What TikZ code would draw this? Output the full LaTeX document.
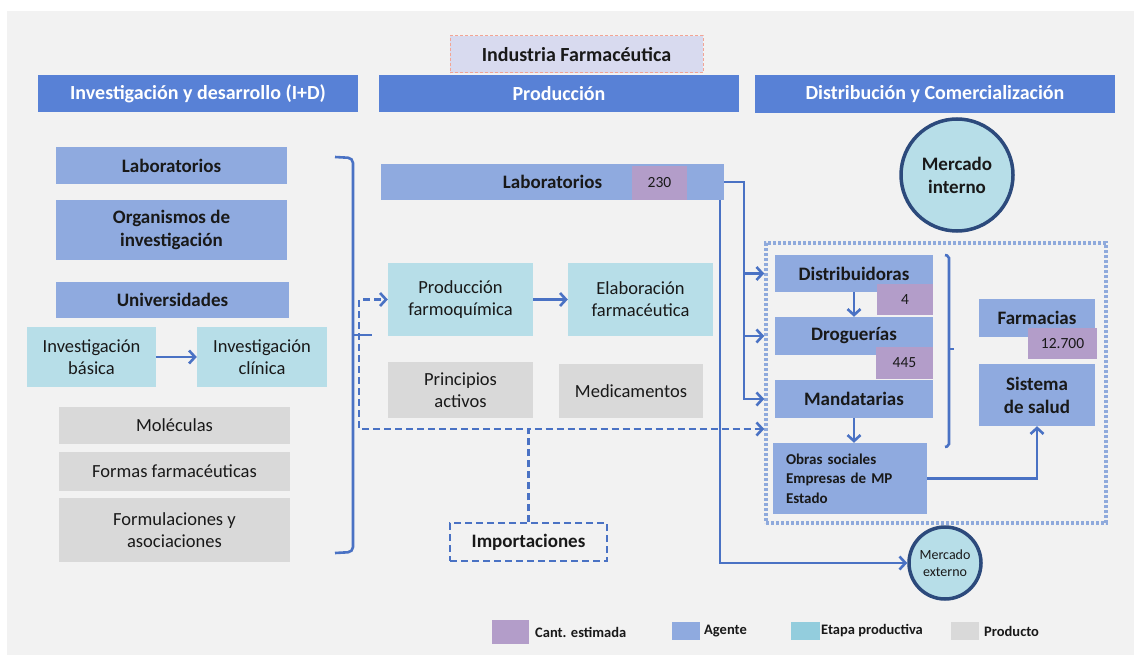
\documentclass[tikz,border=0pt]{standalone}
\usepackage{fontspec}
\setmainfont{Carlito}
\usetikzlibrary{arrows.meta}

\definecolor{fondo}{HTML}{F2F2F2}
\definecolor{cabecera}{HTML}{5881D6}
\definecolor{agente}{HTML}{8FAADF}
\definecolor{etapa}{HTML}{B7DEE8}
\definecolor{etapaley}{HTML}{93CDDD}
\definecolor{producto}{HTML}{D9D9D9}
\definecolor{cant}{HTML}{B39DC9}
\definecolor{linea}{HTML}{4A72C4}
\definecolor{punteado}{HTML}{8FAADC}
\definecolor{titulo}{HTML}{D8DAEF}
\definecolor{titborde}{HTML}{F2A595}
\definecolor{borde}{HTML}{2C4A7C}

\tikzset{
  caja/.style={inner sep=0pt, align=center, text=black!90},
  tam/.style 2 args={minimum width=#1, minimum height=#2},
  encabezado/.style={caja, fill=cabecera, text=white, font=\bfseries\fontsize{20}{24}\selectfont},
  agente/.style={caja, fill=agente, font=\bfseries\fontsize{19}{23}\selectfont},
  etapa/.style={caja, fill=etapa, font=\fontsize{18.5}{22}\selectfont},
  producto/.style={caja, fill=producto, font=\fontsize{18.5}{22}\selectfont},
  cant/.style={caja, fill=cant, font=\fontsize{15.5}{18}\selectfont},
  mercado/.style={circle, draw=borde, line width=3.5pt, fill=etapa, inner sep=0pt, align=center, text=black!90},
  flujo/.style={draw=linea, line width=2.6pt, -{Straight Barb[length=6pt,width=13pt]}},
  importa/.style={flujo, dash pattern=on 7pt off 4pt},
  llave/.style={draw=linea, line width=2.6pt, rounded corners=5pt},
  leyenda/.style={font=\bfseries\fontsize{14.5}{17}\selectfont, anchor=west, inner sep=0pt, text=black!90},
}

\begin{document}
\begin{tikzpicture}[x=1pt,y=-1pt]
  \useasboundingbox (0,0) rectangle (1134,655);
  \fill[white] (0,0) rectangle (1134,655);
  \fill[fondo] (7,11) rectangle (1134,655);

  \node[caja, tam={253}{37}, fill=titulo, draw=titborde, dash pattern=on 3pt off 2pt, line width=1pt,
        font=\bfseries\fontsize{20}{24}\selectfont] (titulo) at (576.5,54.5) {Industria Farmacéutica};
  \node[encabezado, tam={320}{37}] (hID) at (198,93.5) {Investigación y desarrollo (I+D)};
  \node[encabezado, tam={360}{37}] (hProd) at (559,93.5) {Producción};
  \node[encabezado, tam={360}{38}] (hDist) at (935,94) {Distribución y Comercialización};

  \node[agente, tam={231}{37}] (labL) at (171.5,165.5) {Laboratorios};
  \node[agente, tam={231}{60}] (orgL) at (171.5,230) {Organismos de\\investigación};
  \node[agente, tam={233}{36}] (uniL) at (172.5,300) {Universidades};
  \node[etapa, tam={129}{60}] (invB) at (91.5,357) {Investigación\\básica};
  \node[etapa, tam={130}{60}] (invC) at (262,357) {Investigación\\clínica};
  \node[producto, tam={231}{37}] (molec) at (174.5,425.5) {Moléculas};
  \node[producto, tam={231}{39}] (formas) at (174.5,471.5) {Formas farmacéuticas};
  \node[producto, tam={231}{64}] (formul) at (174.5,530) {Formulaciones y\\asociaciones};

  \node[agente, tam={343}{36}] (labP) at (552.5,182) {Laboratorios};
  \node[cant, tam={55}{34}] (n230) at (659.5,183) {230};
  \node[etapa, tam={145}{73}] (prodF) at (460.5,299.5) {Producción\\farmoquímica};
  \node[etapa, tam={145}{73}] (elabF) at (640.5,299.5) {Elaboración\\farmacéutica};
  \node[producto, tam={145}{56}] (princ) at (460.5,390) {Principios\\activos};
  \node[producto, tam={144}{54}] (medic) at (631,391) {Medicamentos};
  \node[caja, tam={157}{38}, draw=linea, line width=2pt, dash pattern=on 7pt off 4pt,
        font=\bfseries\fontsize{19}{23}\selectfont] (impor) at (528.5,542) {Importaciones};

  \node[mercado, minimum size=112, font=\bfseries\fontsize{19}{23}\selectfont] (mInt) at (957,175) {Mercado\\interno};
  \node[draw=punteado, line width=3.5pt, dash pattern=on 3pt off 2pt, tam={340}{280}, inner sep=0pt] (canal) at (936,383) {};
  \node[agente, tam={158}{37}] (distr) at (854,273.5) {Distribuidoras};
  \node[cant, tam={56}{31}] (n4) at (905,299.5) {4};
  \node[agente, tam={158}{38}] (drog) at (854,336) {Droguerías};
  \node[cant, tam={57}{32}] (n445) at (904.5,363) {445};
  \node[agente, tam={158}{38}] (mand) at (854,399) {Mandatarias};
  \node[caja, fill=agente, tam={154}{71}, text width=128, align=left,
        font=\bfseries\fontsize{15}{19.5}\selectfont] (obras) at (850,478.5) {Obras sociales\\Empresas de MP\\Estado};
  \node[agente, tam={116}{38}] (farm) at (1037,318) {Farmacias};
  \node[cant, tam={69}{31}] (n12700) at (1062.5,343.5) {12.700};
  \node[agente, tam={116}{62}] (salud) at (1037,395) {Sistema\\de salud};
  \node[mercado, minimum size=72, font=\fontsize{14}{17}\selectfont] (mExt) at (945,563) {Mercado\\externo};

  \draw[flujo] (invB) -- (invC);
  \draw[flujo] (prodF) -- (elabF);
  \draw[flujo] (distr) -- (drog);
  \draw[flujo] (mand) -- (mand |- obras.north);
  \draw[flujo] (obras) -| (salud);

  \coordinate (bus) at (744,182);
  \draw[flujo] (labP.east) -| (bus |- mand) -- (canal.west |- mand);
  \draw[flujo] (bus |- distr) -- (canal.west |- distr);
  \draw[flujo] (bus |- drog) -- (canal.west |- drog);
  \coordinate (baja) at (720,200);
  \draw[flujo] (labP.south -| baja) |- (mExt.west);

  \coordinate (esq) at (359,429);
  \draw[importa] (impor.north) |- (esq) |- (prodF.west);
  \draw[importa] (impor.north) |- (canal.west |- esq);

  \draw[llave] (335,157) -- (353,158) -- (353,552) -- (335,553);
  \draw[llave] (353,335) -- (372,335);
  \draw[llave, rounded corners=2pt] (945,255) -- (949,256) -- (949,446) -- (945,447);
  \draw[llave] (949,349) -- (954,349);

  \node[caja, fill=cant, tam={37}{24}] (lCant) at (510.5,632) {};
  \node[leyenda] (tCant) at (535,632) {Cant. estimada};
  \node[caja, fill=agente, tam={28}{18}] (lAg) at (686,631) {};
  \node[leyenda] (tAg) at (704,631) {Agente};
  \node[caja, fill=etapaley, tam={29}{18}] (lEt) at (805.5,631) {};
  \node[leyenda] (tEt) at (821,631) {Etapa productiva};
  \node[caja, fill=producto, tam={28}{18}] (lPr) at (965,631) {};
  \node[leyenda] (tPr) at (984,631) {Producto};
\end{tikzpicture}
\end{document}
